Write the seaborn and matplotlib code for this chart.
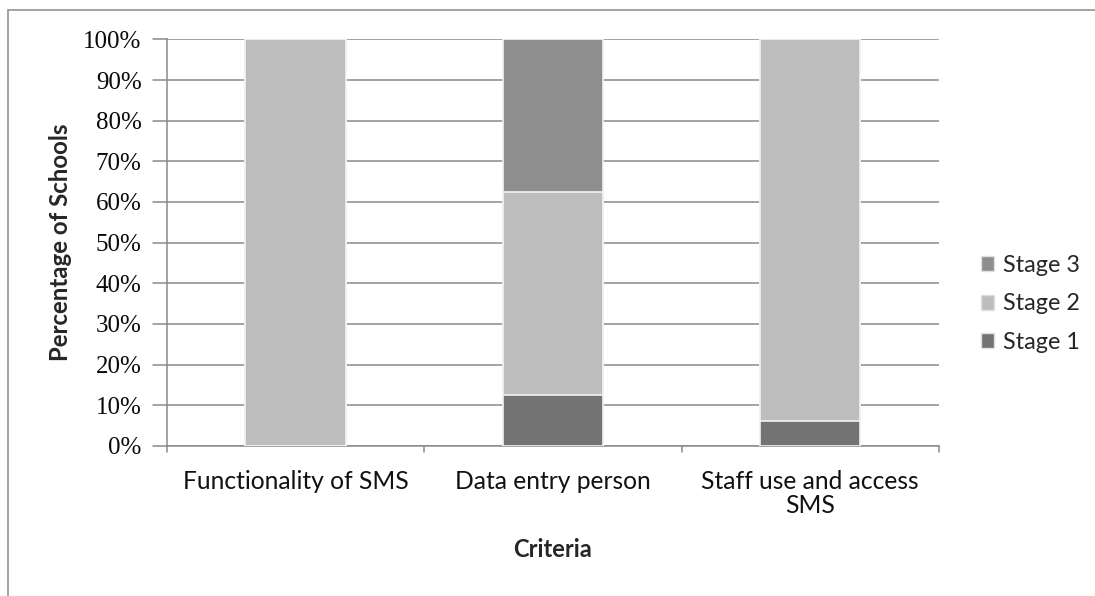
import matplotlib
matplotlib.use("Agg")
import matplotlib.pyplot as plt
from matplotlib.lines import Line2D
from matplotlib.patches import Patch
import numpy as np
import pandas as pd
import seaborn as sns

# Share of schools at each stage, per criterion (percent)
criteria = ["Functionality of SMS", "Data entry person", "Staff use and access\nSMS"]
stage_1 = [0.0, 12.5, 6.25]
stage_2 = [100.0, 50.0, 93.75]
stage_3 = [0.0, 37.5, 0.0]
stage_names = ["Stage 1", "Stage 2", "Stage 3"]
y_ticks = [0, 10, 20, 30, 40, 50, 60, 70, 80, 90, 100]

colors = {"Stage 1": "#737373", "Stage 2": "#bdbdbd", "Stage 3": "#8e8e8e"}

sns.set_theme(style="white")
plt.rcParams["font.family"] = ["Lato", "DejaVu Sans"]

df = pd.DataFrame({"criteria": criteria, "Stage 1": stage_1,
                   "Stage 2": stage_2, "Stage 3": stage_3})
# cumulative tops for stacking
df["top1"] = df["Stage 1"]
df["top2"] = df["top1"] + df["Stage 2"]
df["top3"] = df["top2"] + df["Stage 3"]

fig = plt.figure(figsize=(10.95, 5.96), dpi=100)
ax = fig.add_axes([0.1522, 0.2517, 0.7053, 0.6823])

for col, name in [("top3", "Stage 3"), ("top2", "Stage 2"), ("top1", "Stage 1")]:
    sns.barplot(data=df, x="criteria", y=col, color=colors[name], width=0.39,
                edgecolor="#f2f2f2", linewidth=1.2, saturation=1, ax=ax, zorder=3)

ax.set_xlim(-0.5, 2.5)
ax.set_ylim(0, 100)
ax.set_yticks(y_ticks)
ax.set_yticklabels([f"{v}%" for v in y_ticks], family="Liberation Serif",
                   fontsize=18, color="#0a0a0a")
ax.yaxis.grid(True, color="#8a8a8a", linewidth=1.1, zorder=0)
ax.set_axisbelow(True)

# category boundary ticks on the x axis
ax.set_xticks([0, 1, 2])
ax.set_xticklabels(criteria, fontsize=17.7, color="#111111", linespacing=1.08)
ax.tick_params(axis="x", length=0, pad=17)
ax.tick_params(axis="y", length=0, pad=18)
for xb in [-0.5, 0.5, 1.5, 2.5]:
    ax.plot([xb, xb], [0, -1.6], color="#8a8a8a", lw=1.1, clip_on=False)
for yv in y_ticks:
    ax.plot([-0.5, -0.555], [yv, yv], color="#8a8a8a", lw=1.1, clip_on=False)

for side in ["top", "right"]:
    ax.spines[side].set_visible(False)
ax.spines["left"].set_color("#8a8a8a")
ax.spines["left"].set_linewidth(1.1)
ax.spines["bottom"].set_color("#8a8a8a")
ax.spines["bottom"].set_linewidth(1.1)

ax.set_xlabel("Criteria", fontsize=17, fontweight="bold", labelpad=15)
ax.set_ylabel("Percentage of Schools", fontsize=17.3, fontweight="bold", labelpad=0)
ax.yaxis.set_label_coords(-0.123, 0.5)

handles = [Patch(facecolor=colors[n], edgecolor="#e0e0e0", label=n)
           for n in ["Stage 3", "Stage 2", "Stage 1"]]
fig.legend(handles=handles, loc="center left", bbox_to_anchor=(0.877, 0.49),
           frameon=False, fontsize=16.8, handlelength=0.55, handleheight=0.6,
           handletextpad=0.4, labelspacing=0.75)

# light frame around the chart
fig.add_artist(Line2D([7.5 / 1095, 7.5 / 1095], [0, 1 - 10 / 596],
                      transform=fig.transFigure, color="#8a8a8a", lw=1.1))
fig.add_artist(Line2D([7.5 / 1095, 1], [1 - 10 / 596, 1 - 10 / 596],
                      transform=fig.transFigure, color="#8a8a8a", lw=1.1))

fig.savefig("out.png", dpi=100, facecolor="white")
